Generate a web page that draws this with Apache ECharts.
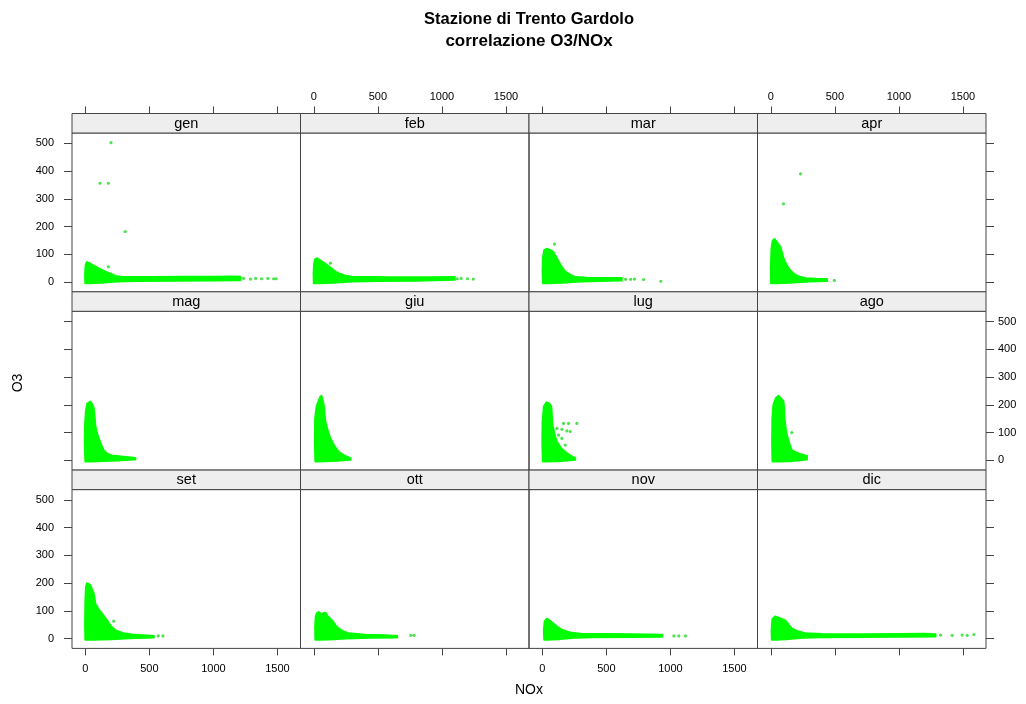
<!DOCTYPE html>
<html>
<head>
<meta charset="utf-8">
<script src="https://cdn.jsdelivr.net/npm/echarts@6/dist/echarts.min.js"></script>
<style>html,body{margin:0;padding:0;background:#fff;}#c{width:1026px;height:704px;}</style>
</head>
<body>
<div id="c"></div>
<script>
// ---- data ----
const months = ['gen','feb','mar','apr','mag','giu','lug','ago','set','ott','nov','dic'];
const xTicks = [0, 500, 1000, 1500];
const yTicks = [0, 100, 200, 300, 400, 500];
const xRange = [-104, 1680];
const yRange = [-35, 537];

// outlines of the dense point clouds [NOx, O3]
const cloudGen = [[0,-4],[-2,20],[0,45],[3,63],[12,72],[40,66],[80,56],[120,46],[157,38],[200,29],[235,22],[280,19],[500,18],[800,19],[1000,19],[1150,20],[1210,19],[1210,7],[1000,6],[700,5],[400,4],[250,2],[120,-2],[40,-4]];
const cloudFeb = [[0,-4],[-2,30],[2,65],[10,82],[25,86],[50,78],[90,66],[130,52],[168,38],[210,29],[247,23],[300,19],[600,17],[900,17],[1100,18],[1100,8],[800,5],[500,4],[300,2],[150,-2],[50,-4]];
const cloudMar = [[5,-4],[2,40],[5,90],[15,115],[33,120],[60,116],[88,108],[108,90],[127,74],[150,56],[179,38],[220,26],[257,18],[350,16],[500,15],[620,15],[620,6],[450,4],[300,2],[150,-2],[40,-4]];
const cloudApr = [[2,-4],[0,50],[5,120],[15,150],[29,155],[50,142],[73,128],[88,105],[99,86],[118,66],[138,50],[165,36],[191,26],[230,19],[269,14],[350,12],[438,11],[440,4],[300,2],[150,-2],[40,-4]];
const cloudMag = [[0,-4],[-4,60],[-2,130],[5,180],[15,205],[39,212],[55,200],[66,188],[72,160],[78,127],[90,100],[105,79],[125,55],[144,36],[170,24],[209,18],[300,13],[391,9],[391,3],[250,0],[100,-3],[30,-4]];
const cloudGiu = [[12,-4],[8,60],[10,150],[20,190],[35,212],[50,228],[59,233],[70,215],[77,200],[84,170],[90,139],[108,108],[129,79],[160,52],[195,30],[240,17],[286,8],[286,2],[150,-2],[40,-4]];
const cloudLug = [[4,-4],[0,60],[2,140],[12,195],[33,209],[55,205],[70,194],[75,160],[80,127],[95,95],[114,67],[145,45],[179,30],[220,17],[257,8],[257,2],[150,-2],[40,-4]];
const cloudAgo = [[13,-4],[10,60],[12,150],[20,200],[40,225],[60,233],[80,222],[99,212],[105,180],[107,151],[115,120],[125,91],[145,60],[164,36],[220,24],[282,16],[282,3],[150,-3],[40,-4]];
const cloudSet = [[0,-4],[-2,50],[0,130],[5,185],[13,200],[30,196],[39,192],[55,175],[66,162],[72,145],[78,126],[105,105],[131,90],[150,78],[170,66],[200,45],[235,30],[300,20],[365,15],[450,12],[535,10],[535,4],[350,2],[200,-2],[60,-4]];
const cloudOtt = [[12,-4],[10,40],[15,80],[25,92],[38,96],[60,88],[75,92],[90,94],[110,80],[142,66],[170,48],[195,36],[230,26],[273,20],[400,14],[550,12],[651,10],[651,4],[450,3],[250,1],[120,-3],[40,-4]];
const cloudNov = [[15,-4],[12,30],[18,62],[35,72],[55,66],[88,54],[120,42],[153,32],[190,26],[218,22],[300,18],[500,17],[700,16],[935,14],[935,7],[700,6],[400,5],[250,3],[120,-2],[40,-4]];
const cloudDic = [[8,-4],[6,30],[12,70],[34,80],[60,76],[90,70],[113,66],[140,50],[164,36],[210,27],[269,20],[400,17],[700,16],[1000,17],[1200,18],[1286,16],[1286,8],[1000,7],[700,6],[400,5],[250,3],[120,-2],[40,-4]];

// isolated points [NOx, O3]
const ptsGen = [[201,502],[115,356],[180,356],[311,182],[180,55],[1235,13],[1290,11],[1330,13],[1375,12],[1425,13],[1470,12],[1490,12]];
const ptsFeb = [[130,68],[1120,12],[1150,13],[1200,12],[1245,11]];
const ptsMar = [[95,137],[650,10],[690,10],[720,11],[790,9],[925,3]];
const ptsApr = [[232,390],[99,282],[496,6]];
const ptsMag = [];
const ptsGiu = [];
const ptsLug = [[166,133],[205,133],[270,133],[114,115],[153,112],[192,106],[218,104],[127,91],[153,79],[179,55]];
const ptsAgo = [[164,100]];
const ptsSet = [[222,63],[569,10],[606,10]];
const ptsOtt = [[757,12],[782,12]];
const ptsNov = [[1027,10],[1066,10],[1118,10]];
const ptsDic = [[1325,13],[1416,12],[1494,13],[1533,12],[1586,15]];

const clouds = [cloudGen,cloudFeb,cloudMar,cloudApr,cloudMag,cloudGiu,cloudLug,cloudAgo,cloudSet,cloudOtt,cloudNov,cloudDic];
const points = [ptsGen,ptsFeb,ptsMar,ptsApr,ptsMag,ptsGiu,ptsLug,ptsAgo,ptsSet,ptsOtt,ptsNov,ptsDic];

// ---- layout ----
const FONT = 'Liberation Sans, Arial, Helvetica, sans-serif';
const colLeft = 72, colW = 228.5, rowTop0 = 113.5, rowH = 178.3, stripH = 19.5;
const panelH = rowH - stripH;
const GREEN = '#00ff00';
const LINE = '#444444';
const plain = function (v) { return String(v); };

const grids = [], xAxes = [], yAxes = [], series = [], graphics = [];
months.forEach(function (m, i) {
  const r = Math.floor(i / 4), c = i % 4;
  const left = colLeft + c * colW;
  const stripTop = rowTop0 + r * rowH;
  grids.push({left: left, top: stripTop + stripH, width: colW, height: panelH,
    show: true, borderColor: LINE, borderWidth: 1, backgroundColor: 'transparent', containLabel: false});

  const xLabel = (r === 0 && c % 2 === 1) || (r === 2 && c % 2 === 0);
  xAxes.push({
    gridIndex: i, type: 'value', min: xRange[0], max: xRange[1],
    show: r !== 1,
    position: r === 0 ? 'top' : 'bottom',
    offset: r === 0 ? stripH : 0,
    axisLine: {show: false, onZero: false},
    splitLine: {show: false},
    axisTick: {show: true, inside: false, length: 7, customValues: xTicks, lineStyle: {color: LINE}},
    axisLabel: {show: xLabel, customValues: xTicks, margin: r === 0 ? 11 : 15, formatter: plain,
      fontSize: 11, fontFamily: FONT, color: '#000'}
  });

  const yShow = c === 0 || c === 3;
  const yLabel = (c === 0 && r !== 1) || (c === 3 && r === 1);
  yAxes.push({
    gridIndex: i, type: 'value', min: yRange[0], max: yRange[1],
    show: yShow,
    position: c === 3 ? 'right' : 'left',
    axisLine: {show: false, onZero: false},
    splitLine: {show: false},
    axisTick: {show: true, inside: false, length: 8, customValues: yTicks, lineStyle: {color: LINE}},
    axisLabel: {show: yLabel, customValues: yTicks, margin: c === 0 ? 18 : 12, formatter: plain,
      fontSize: 11, fontFamily: FONT, color: '#000'}
  });

  const cloud = clouds[i];
  series.push({
    type: 'custom', xAxisIndex: i, yAxisIndex: i, clip: true,
    data: cloud, encode: {x: 0, y: 1},
    renderItem: function (params, api) {
      if (params.dataIndex !== 0) return null;
      const pts = cloud.map(function (p) { return api.coord(p); });
      return {type: 'polygon', shape: {points: pts},
        style: {fill: GREEN, stroke: GREEN, lineWidth: 2, lineJoin: 'round'}};
    },
    silent: true
  });
  series.push({
    type: 'scatter', xAxisIndex: i, yAxisIndex: i,
    data: points[i], symbol: 'circle', symbolSize: 3.2,
    itemStyle: {color: '#22dd22'}, silent: true
  });

  // strip
  graphics.push({type: 'rect', shape: {x: left, y: stripTop, width: colW, height: stripH},
    style: {fill: '#eeeeee', stroke: LINE, lineWidth: 1}, z: 10});
  graphics.push({type: 'text', x: left + colW / 2, y: stripTop + stripH / 2 + 0.5,
    style: {text: m, align: 'center', verticalAlign: 'middle', textAlign: 'center', textVerticalAlign: 'middle',
      font: '14.5px ' + FONT, fill: '#000'}, z: 11});
});

// titles
graphics.push({type: 'text', x: 529, y: 19, style: {text: 'Stazione di Trento Gardolo',
  align: 'center', verticalAlign: 'middle', textAlign: 'center', textVerticalAlign: 'middle',
  font: 'bold 16.5px ' + FONT, fill: '#000'}});
graphics.push({type: 'text', x: 529, y: 41, style: {text: 'correlazione O3/NOx',
  align: 'center', verticalAlign: 'middle', textAlign: 'center', textVerticalAlign: 'middle',
  font: 'bold 17px ' + FONT, fill: '#000'}});
graphics.push({type: 'text', x: 529, y: 690, style: {text: 'NOx',
  align: 'center', verticalAlign: 'middle', textAlign: 'center', textVerticalAlign: 'middle',
  font: '14px ' + FONT, fill: '#000'}});
graphics.push({type: 'text', x: 18, y: 383, rotation: Math.PI / 2, style: {text: 'O3',
  align: 'center', verticalAlign: 'middle', textAlign: 'center', textVerticalAlign: 'middle',
  font: '14px ' + FONT, fill: '#000'}});

const chart = echarts.init(document.getElementById('c'), null, {renderer: 'canvas'});
chart.setOption({
  animation: false,
  backgroundColor: '#ffffff',
  grid: grids, xAxis: xAxes, yAxis: yAxes, series: series,
  graphic: graphics
});
</script>
</body>
</html>
